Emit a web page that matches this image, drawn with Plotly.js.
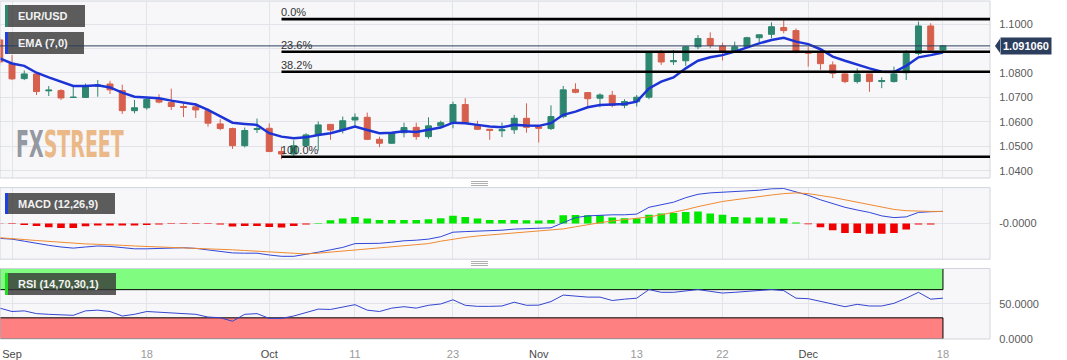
<!DOCTYPE html>
<html><head><meta charset="utf-8">
<script src="https://cdn.plot.ly/plotly-3.0.1.min.js"></script>
<style>html,body{margin:0;padding:0;background:#fff}#chart{width:1067px;height:360px}</style>
</head><body><div id="chart"></div>
<script>
// ---- data ----
const dates = ['2023-08-31',
'2023-09-01','2023-09-04','2023-09-05','2023-09-06','2023-09-07','2023-09-08','2023-09-11','2023-09-12','2023-09-13','2023-09-14','2023-09-15',
'2023-09-18','2023-09-19','2023-09-20','2023-09-21','2023-09-22','2023-09-25','2023-09-26','2023-09-27','2023-09-28','2023-09-29',
'2023-10-02','2023-10-03','2023-10-04','2023-10-05','2023-10-06','2023-10-09','2023-10-10','2023-10-11','2023-10-12','2023-10-13',
'2023-10-16','2023-10-17','2023-10-18','2023-10-19','2023-10-20','2023-10-23','2023-10-24','2023-10-25','2023-10-26','2023-10-27',
'2023-10-30','2023-10-31',
'2023-11-01','2023-11-02','2023-11-03','2023-11-06','2023-11-07','2023-11-08','2023-11-09','2023-11-10','2023-11-13','2023-11-14',
'2023-11-15','2023-11-16','2023-11-17','2023-11-20','2023-11-21','2023-11-22','2023-11-23','2023-11-24','2023-11-27','2023-11-28',
'2023-11-29','2023-11-30',
'2023-12-01','2023-12-04','2023-12-05','2023-12-06','2023-12-07','2023-12-08','2023-12-11','2023-12-12','2023-12-13','2023-12-14',
'2023-12-15','2023-12-18'];

const open = [1.0935,1.0839,1.0777,1.0796,1.0727,1.0728,1.0700,1.0700,1.0746,1.0755,
1.0728,1.0646,1.0658,1.0692,1.0679,1.0663,1.0662,1.0646,1.0592,1.0573,
1.0503,1.0569,1.0574,1.0479,1.0469,1.0503,1.0547,1.0590,1.0567,1.0608,
1.0619,1.0529,1.0513,1.0556,1.0578,1.0540,1.0584,1.0597,1.0671,1.0588,
1.0570,1.0564,1.0568,1.0615,1.0580,1.0573,1.0622,1.0733,1.0720,1.0697,
1.0709,1.0668,1.0683,1.0701,1.0883,1.0846,1.0850,1.0907,1.0941,1.0910,
1.0887,1.0907,1.0944,1.0958,1.0986,1.0973,1.0887,1.0881,1.0833,1.0796,
1.0765,1.0796,1.0765,1.0765,1.0801,1.0880,1.0992,1.0894];
const high = [1.0945,1.0873,1.0810,1.0797,1.0747,1.0734,1.0747,1.0757,1.0771,1.0768,
1.0752,1.0690,1.0702,1.0713,1.0736,1.0677,1.0677,1.0655,1.0611,1.0577,
1.0577,1.0614,1.0594,1.0499,1.0525,1.0554,1.0602,1.0592,1.0622,1.0635,
1.0638,1.0540,1.0559,1.0597,1.0597,1.0619,1.0605,1.0683,1.0697,1.0605,
1.0571,1.0597,1.0629,1.0676,1.0581,1.0668,1.0747,1.0758,1.0721,1.0717,
1.0727,1.0693,1.0710,1.0887,1.0894,1.0894,1.0910,1.0955,1.0966,1.0924,
1.0928,1.0948,1.0957,1.1007,1.1016,1.0982,1.0907,1.0894,1.0847,1.0799,
1.0819,1.0797,1.0782,1.0826,1.0894,1.1010,1.1003,1.0914];
const low = [1.0833,1.0771,1.0771,1.0710,1.0706,1.0690,1.0699,1.0698,1.0703,1.0714,
1.0633,1.0635,1.0650,1.0676,1.0649,1.0620,1.0616,1.0581,1.0566,1.0490,
1.0496,1.0555,1.0478,1.0448,1.0458,1.0499,1.0483,1.0527,1.0553,1.0581,
1.0526,1.0497,1.0510,1.0537,1.0527,1.0531,1.0581,1.0574,1.0594,1.0567,
1.0527,1.0538,1.0551,1.0556,1.0516,1.0567,1.0615,1.0717,1.0663,1.0660,
1.0660,1.0656,1.0663,1.0693,1.0833,1.0833,1.0829,1.0897,1.0901,1.0851,
1.0886,1.0905,1.0924,1.0942,1.0962,1.0880,1.0826,1.0813,1.0779,1.0758,
1.0757,1.0723,1.0738,1.0761,1.0771,1.0872,1.0887,1.0890];
const close = [1.0845,1.0776,1.0796,1.0724,1.0730,1.0698,1.0701,1.0746,1.0750,1.0731,
1.0646,1.0658,1.0692,1.0681,1.0663,1.0659,1.0649,1.0595,1.0573,1.0503,
1.0565,1.0573,1.0479,1.0469,1.0503,1.0547,1.0588,1.0567,1.0605,1.0619,
1.0529,1.0513,1.0556,1.0577,1.0540,1.0584,1.0597,1.0671,1.0597,1.0570,
1.0566,1.0568,1.0615,1.0578,1.0574,1.0622,1.0731,1.0721,1.0695,1.0710,
1.0668,1.0683,1.0701,1.0883,1.0845,1.0850,1.0907,1.0941,1.0913,1.0887,
1.0907,1.0944,1.0956,1.0989,1.0973,1.0887,1.0881,1.0838,1.0799,1.0765,
1.0796,1.0765,1.0769,1.0796,1.0880,1.0992,1.0894,1.0911];
const ema7 = [1.0860,1.0839,1.0829,1.0801,1.0782,1.0765,1.0747,1.0747,1.0750,1.0741,
1.0720,1.0703,1.0701,1.0697,1.0687,1.0680,1.0671,1.0649,1.0624,1.0597,
1.0592,1.0588,1.0554,1.0540,1.0533,1.0537,1.0547,1.0554,1.0567,1.0581,
1.0567,1.0554,1.0556,1.0562,1.0559,1.0567,1.0577,1.0597,1.0595,1.0588,
1.0581,1.0578,1.0588,1.0585,1.0584,1.0595,1.0629,1.0642,1.0660,1.0669,
1.0672,1.0673,1.0683,1.0737,1.0765,1.0782,1.0819,1.0850,1.0864,1.0873,
1.0887,1.0905,1.0921,1.0935,1.0944,1.0928,1.0918,1.0897,1.0867,1.0850,
1.0833,1.0819,1.0805,1.0804,1.0829,1.0864,1.0873,1.0884];
const macdLine = [-0.00375,-0.00393,-0.00445,-0.00505,-0.00548,-0.00590,-0.00618,-0.00590,-0.00565,-0.00575,
-0.00608,-0.00635,-0.00635,-0.00625,-0.00618,-0.00608,-0.00625,-0.00660,-0.00695,-0.00738,
-0.00745,-0.00745,-0.00790,-0.00823,-0.00823,-0.00780,-0.00720,-0.00660,-0.00600,-0.00505,
-0.00505,-0.00498,-0.00470,-0.00435,-0.00420,-0.00393,-0.00333,-0.00220,-0.00205,-0.00195,
-0.00188,-0.00170,-0.00143,-0.00135,-0.00135,-0.00110,0.00018,0.00145,0.00188,0.00205,
0.00215,0.00215,0.00233,0.00403,0.00470,0.00530,0.00643,0.00728,0.00763,0.00780,
0.00788,0.00813,0.00830,0.00865,0.00873,0.00788,0.00703,0.00590,0.00488,0.00403,
0.00335,0.00275,0.00188,0.00145,0.00163,0.00275,0.00293,0.00300];
const signalLine = [-0.00358,-0.00375,-0.00403,-0.00428,-0.00453,-0.00480,-0.00505,-0.00513,-0.00523,-0.00530,
-0.00548,-0.00565,-0.00575,-0.00590,-0.00600,-0.00608,-0.00618,-0.00635,-0.00653,-0.00660,
-0.00678,-0.00695,-0.00720,-0.00745,-0.00763,-0.00763,-0.00745,-0.00720,-0.00695,-0.00660,
-0.00635,-0.00608,-0.00590,-0.00565,-0.00540,-0.00505,-0.00445,-0.00393,-0.00350,-0.00315,
-0.00290,-0.00265,-0.00238,-0.00213,-0.00193,-0.00180,-0.00138,-0.00085,-0.00025,0.00018,
0.00060,0.00095,0.00120,0.00163,0.00215,0.00275,0.00343,0.00420,0.00488,0.00548,
0.00590,0.00635,0.00678,0.00710,0.00745,0.00763,0.00745,0.00703,0.00650,0.00590,
0.00530,0.00470,0.00403,0.00350,0.00318,0.00300,0.00300,0.00300];
const macdHist = [-0.00008,-0.00013,-0.00038,-0.00063,-0.00095,-0.00113,-0.00113,-0.0007,-0.0005,-0.0005,
-0.0005,-0.0005,-0.00038,-0.00025,-0.00018,-0.00013,-0.00013,-0.00018,-0.00025,-0.00075,
-0.00063,-0.00063,-0.00088,-0.00105,-0.00063,-0.00025,0.00013,0.00078,0.0012,0.00163,
0.0012,0.00085,0.00085,0.00085,0.00085,0.00103,0.0013,0.0019,0.00163,0.0012,
0.00085,0.00085,0.00085,0.00078,0.00075,0.00085,0.00205,0.00213,0.00205,0.00205,
0.00145,0.00128,0.00128,0.00215,0.00248,0.00258,0.00283,0.003,0.00248,0.00215,
0.00163,0.00145,0.00145,0.00145,0.00128,0.00025,-0.0002,-0.00095,-0.0017,-0.0024,
-0.0024,-0.00258,-0.00258,-0.0024,-0.00155,-0.00025,-0.00025,0];
const rsi = [43.8,39.0,39.9,36.0,35.0,34.0,33.6,39.9,40.9,39.0,
32.6,35.0,39.0,38.0,37.0,37.0,35.0,31.1,30.2,25.2,
35.0,36.0,29.2,29.2,32.6,37.5,42.4,41.9,45.8,48.7,
40.9,39.0,43.8,45.8,43.8,47.8,49.7,55.6,47.8,46.3,
46.3,46.8,52.2,47.8,48.0,53.1,62.3,60.4,59.4,59.4,
54.6,56.5,57.9,70.1,66.2,66.2,68.6,70.1,67.6,65.2,
66.2,67.6,68.6,70.1,68.6,57.9,57.2,53.1,49.7,45.8,
49.2,46.8,46.8,50.6,57.9,66.2,56.5,57.9];

const tickDates  = ['2023-09-01','2023-09-18','2023-10-02','2023-10-11','2023-10-23','2023-11-01','2023-11-13','2023-11-22','2023-12-01','2023-12-18'];
const tickLabels = ['Sep','18','Oct','11','23','Nov','13','22','Dec','18'];
const priceTicks = [1.04,1.05,1.06,1.07,1.08,1.09,1.10];
const priceTickLabels = ['1.0400','1.0500','1.0600','1.0700','1.0800','','1.1000'];
const fibLabels = ['0.0%','23.6%','38.2%','100.0%'];
const fibPrices = [1.1020,1.0887,1.0805,1.0458];
const fibStart = '2023-10-03';
const lastPrice = 1.09106;
const lastPriceText = '1.091060';
const rsiOverbought = 70, rsiOversold = 30;

// ---- styling / layout ----
const GREEN = '#2e8670', RED = '#d6604d';
const xRange = [0.02, 80.84];
const pxX = v => v/990;               // paper x from plot pixels
const pxY = v => (339 - v)/338;       // paper y from plot pixels

const traces = [
  {type:'candlestick', x:dates, open:open, high:high, low:low, close:close,
   xaxis:'x', yaxis:'y', whiskerwidth:0, hoverinfo:'skip', showlegend:false,
   increasing:{line:{color:GREEN,width:1}, fillcolor:GREEN},
   decreasing:{line:{color:RED,width:1}, fillcolor:RED}},
  {type:'scatter', mode:'lines', x:dates, y:ema7, xaxis:'x', yaxis:'y',
   line:{color:'#1c33d6', width:2.5}, hoverinfo:'skip'},
  {type:'bar', x:dates, y:macdHist, xaxis:'x', yaxis:'y2', width:0.62,
   marker:{color:macdHist.map(v => v >= 0 ? '#00e800' : '#f00000'), line:{width:0}}, hoverinfo:'skip'},
  {type:'scatter', mode:'lines', x:dates, y:macdLine, xaxis:'x', yaxis:'y2',
   line:{color:'#3046d8', width:1}, hoverinfo:'skip'},
  {type:'scatter', mode:'lines', x:dates, y:signalLine, xaxis:'x', yaxis:'y2',
   line:{color:'#f08a30', width:1}, hoverinfo:'skip'},
  {type:'scatter', mode:'lines', x:dates, y:rsi, xaxis:'x', yaxis:'y3',
   line:{color:'#3345cf', width:1}, hoverinfo:'skip'}
];

const gridC = '#e3e4e9';
const yCommon = {side:'right', anchor:'x', ticks:'outside', ticklen:6, tickcolor:'rgba(0,0,0,0)',
  gridcolor:gridC, zeroline:false, showline:false, fixedrange:true,
  tickfont:{size:11, color:'#5a5a5a'}};

const shapes = [];
// RSI zones
shapes.push({type:'rect', xref:'x', yref:'y3', x0:dates[0], x1:dates[dates.length-1], y0:rsiOverbought, y1:100,
  fillcolor:'#80fd80', line:{color:'#000', width:1}, layer:'between'});
shapes.push({type:'rect', xref:'x', yref:'y3', x0:dates[0], x1:dates[dates.length-1], y0:0, y1:rsiOversold,
  fillcolor:'#ff8080', line:{color:'#000', width:1}, layer:'between'});
// panel borders
['y','y2','y3'].forEach(a => shapes.push({type:'rect', xref:'x domain', yref:a+' domain', x0:0, x1:1, y0:0, y1:1,
  line:{color:'#d2d5dd', width:1}, fillcolor:'rgba(0,0,0,0)', layer:'above'}));
// fibonacci lines
fibPrices.forEach(p => shapes.push({type:'line', xref:'x', yref:'y', x0:fibStart, x1:xRange[1], y0:p, y1:p,
  line:{color:'#000', width:2.6}, layer:'above'}));
// label boxes
const boxFill = 'rgba(52,52,52,0.80)';
const boxes = [
  {x0:5, x1:85, y0:5, y1:27, accent:GREEN},
  {x0:5, x1:84, y0:32, y1:54, accent:'#1f3fe0'},
  {x0:5, x1:115, y0:193, y1:214, accent:'#1f3fe0'},
  {x0:5, x1:116, y0:273, y1:295, accent:'#22dd22'}
];
boxes.forEach(b => {
  shapes.push({type:'rect', xref:'paper', yref:'paper', x0:pxX(b.x0), x1:pxX(b.x1), y0:pxY(b.y1), y1:pxY(b.y0),
    fillcolor:boxFill, line:{width:0}, layer:'above'});
  shapes.push({type:'rect', xref:'paper', yref:'paper', x0:pxX(b.x0), x1:pxX(b.x0+3), y0:pxY(b.y1), y1:pxY(b.y0),
    fillcolor:b.accent, line:{width:0}, layer:'above'});
});
// last price line + tag pointer
shapes.push({type:'line', xref:'paper', yref:'y', x0:0, x1:1, y0:lastPrice, y1:lastPrice,
  line:{color:'#2c3e5e', width:1}, layer:'above'});
shapes.push({type:'path', xref:'paper', yref:'y',
  path:`M ${pxX(995)},${lastPrice} L ${pxX(1000)},${lastPrice+0.0029} L ${pxX(1000)},${lastPrice-0.0029} Z`,
  fillcolor:'#2c3e5e', line:{width:0}});
// panel divider handles
[[181.5,183.5,185.5],[261.5,263.5,265.5]].forEach(set => set.forEach(yy => shapes.push({type:'line', xref:'paper', yref:'paper',
  x0:pxX(471), x1:pxX(488), y0:pxY(yy), y1:pxY(yy), line:{color:'#9a9a9a', width:0.8}})));

const annotations = [];
fibLabels.forEach((t,i) => annotations.push({xref:'x', yref:'y', x:fibStart, y:fibPrices[i], text:t,
  xanchor:'left', yanchor:'bottom', showarrow:false, xshift:-2, yshift:-1, font:{size:11, color:'#333'}}));
const boxTexts = [['EUR/USD',16],['EMA (7,0)',43],['MACD (12,26,9)',203.5],['RSI (14,70,30,1)',284]];
boxTexts.forEach(([t,yy]) => annotations.push({xref:'paper', yref:'paper', x:pxX(16), y:pxY(yy), text:'<b>'+t+'</b>',
  xanchor:'left', yanchor:'middle', showarrow:false, font:{size:11, color:'#f2f2f2'}}));
annotations.push({xref:'paper', yref:'y', x:pxX(1000), y:lastPrice, text:'<b>'+lastPriceText+'</b>',
  xanchor:'left', yanchor:'middle', showarrow:false, bgcolor:'#2c3e5e', borderpad:2,
  font:{size:11, color:'#ffffff'}});
const wmIndex = annotations.length;
annotations.push({xref:'paper', yref:'paper', x:pxX(14), y:pxY(145), xanchor:'left', yanchor:'middle', showarrow:false,
  text:'<span style="color:#8a8e97">FX</span><span style="color:#e9b37b">STREET</span>',
  font:{size:37, family:'"DejaVu Sans Condensed", "Liberation Sans Narrow", sans-serif', weight:700}, opacity:0.9});

const layout = {
  width:1067, height:360,
  margin:{l:0, r:77, t:1, b:21},
  paper_bgcolor:'#ffffff', plot_bgcolor:'#f7f7f9',
  font:{family:'Arial, "Liberation Sans", sans-serif', size:11, color:'#555'},
  showlegend:false, hovermode:false, dragmode:false,
  xaxis:{type:'category', range:xRange, anchor:'y3', tickmode:'array', tickvals:tickDates,
    ticktext:tickLabels.map(t => isNaN(+t) ? '<span style="color:#4a4a4a">'+t+'</span>' : t),
    tickfont:{size:11, color:'#9a9a9a'}, ticks:'outside', ticklen:5, tickcolor:'rgba(0,0,0,0)',
    showgrid:true, gridcolor:gridC, zeroline:false,
    showline:false, rangeslider:{visible:false}, fixedrange:true},
  yaxis:Object.assign({}, yCommon, {domain:[0.4763,1], range:[1.0371,1.1094], tickmode:'array',
    tickvals:priceTicks, ticktext:priceTickLabels}),
  yaxis2:Object.assign({}, yCommon, {domain:[0.2361,0.4479], range:[-0.00895,0.00895], tickmode:'array',
    tickvals:[0], ticktext:['-0.0000']}),
  yaxis3:Object.assign({}, yCommon, {domain:[0,0.2086], range:[0,100], tickmode:'array',
    tickvals:[0,50], ticktext:['0.0000','50.0000']}),
  shapes:shapes, annotations:annotations
};

Plotly.newPlot('chart', traces, layout, {staticPlot:true, displayModeBar:false}).then(gd => {
  // condense the watermark text horizontally to match the narrow logo lettering
  const t = gd.querySelector('.annotation[data-index="' + wmIndex + '"] .annotation-text');
  if (t) {
    const bb = t.getBBox();
    if (bb.width > 0) {
      const s = 108 / bb.width;
      t.setAttribute('transform', 'translate(' + bb.x + ',0) scale(' + s + ',1) translate(' + (-bb.x) + ',0)');
    }
  }
});
</script>
</body></html>
